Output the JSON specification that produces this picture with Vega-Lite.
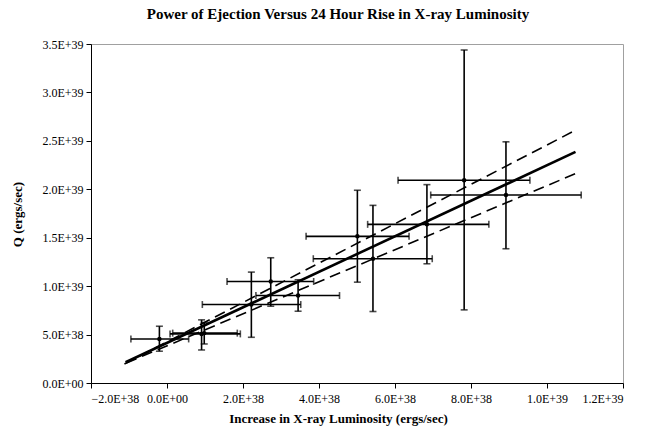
{
  "$schema": "https://vega.github.io/schema/vega-lite/v6.json",
  "width": 532,
  "height": 339,
  "autosize": "none",
  "padding": {"left": 91, "top": 44, "right": 34, "bottom": 51},
  "background": "white",
  "title": {
    "text": "Power  of Ejection Versus 24 Hour Rise in X-ray Luminosity",
    "font": "Liberation Serif",
    "fontSize": 15,
    "fontWeight": "bold",
    "color": "black",
    "anchor": "middle",
    "dx": -19,
    "offset": 16
  },
  "config": {
    "font": "Liberation Serif",
    "view": {"stroke": "#a0a0a0", "strokeWidth": 1},
    "axis": {
      "grid": false,
      "domainColor": "black",
      "domainWidth": 1,
      "tickColor": "black",
      "tickSize": 5,
      "labelFont": "Liberation Serif",
      "labelFontSize": 12,
      "labelColor": "black",
      "titleFont": "Liberation Serif",
      "titleFontSize": 13,
      "titleFontWeight": "bold",
      "titleColor": "black"
    }
  },
  "datasets": {
    "points": [
      {"x": -0.20e38, "y": 4.55e38, "xlo": -0.95e38, "xhi": 0.57e38, "ylo": 3.28e38, "yhi": 5.86e38},
      {"x": 0.91e38, "y": 5.07e38, "xlo": 0.08e38, "xhi": 1.93e38, "ylo": 3.41e38, "yhi": 6.52e38},
      {"x": 0.98e38, "y": 5.15e38, "xlo": 0.15e38, "xhi": 1.85e38, "ylo": 4.03e38, "yhi": 6.24e38},
      {"x": 2.22e38, "y": 8.10e38, "xlo": 0.93e38, "xhi": 3.52e38, "ylo": 4.72e38, "yhi": 11.45e38},
      {"x": 2.73e38, "y": 10.48e38, "xlo": 1.58e38, "xhi": 3.86e38, "ylo": 7.93e38, "yhi": 12.93e38},
      {"x": 3.45e38, "y": 9.03e38, "xlo": 2.34e38, "xhi": 4.54e38, "ylo": 7.41e38, "yhi": 10.66e38},
      {"x": 5.01e38, "y": 15.14e38, "xlo": 3.66e38, "xhi": 6.37e38, "ylo": 10.41e38, "yhi": 19.90e38},
      {"x": 5.42e38, "y": 12.83e38, "xlo": 3.85e38, "xhi": 6.98e38, "ylo": 7.38e38, "yhi": 18.34e38},
      {"x": 6.84e38, "y": 16.38e38, "xlo": 5.28e38, "xhi": 8.47e38, "ylo": 12.31e38, "yhi": 20.48e38},
      {"x": 7.82e38, "y": 20.93e38, "xlo": 6.08e38, "xhi": 9.55e38, "ylo": 7.55e38, "yhi": 34.38e38},
      {"x": 8.92e38, "y": 19.41e38, "xlo": 6.94e38, "xhi": 10.90e38, "ylo": 13.86e38, "yhi": 24.90e38}
    ],
    "fit": [
      {"x": -1.09e38, "y": 2.14e38, "s": "fit"},
      {"x": 10.75e38, "y": 23.86e38, "s": "fit"}
    ],
    "bounds": [
      {"x": -1.12e38, "y": 1.97e38, "s": "upper"},
      {"x": 10.75e38, "y": 26.10e38, "s": "upper"},
      {"x": -1.07e38, "y": 2.07e38, "s": "lower"},
      {"x": 10.75e38, "y": 21.62e38, "s": "lower"}
    ]
  },
  "layer": [
    {
      "data": {"name": "bounds"},
      "mark": {"type": "line", "color": "black", "strokeWidth": 1.6, "strokeDash": [11, 6]},
      "encoding": {
        "x": {"field": "x", "type": "quantitative", "scale": {"domain": [-2e38, 1.2e39], "zero": false, "nice": false},
              "axis": {"title": "Increase in X-ray Luminosity (ergs/sec)", "values": [-2e38, 0, 2e38, 4e38, 6e38, 8e38, 1e39, 1.2e39],
                       "labelExpr": "datum.value == 0 ? '0.0E+00' : upper(format(datum.value, '.1e'))", "labelPadding": 5, "titlePadding": 8, "titleX": 247}},
        "y": {"field": "y", "type": "quantitative", "scale": {"domain": [0, 3.5e39], "zero": false, "nice": false},
              "axis": {"title": "Q (ergs/sec)", "values": [0, 5e38, 1e39, 1.5e39, 2e39, 2.5e39, 3e39, 3.5e39],
                       "labelExpr": "datum.value == 0 ? '0.0E+00' : upper(format(datum.value, '.1e'))", "labelPadding": 3, "titleX": -74, "titleY": 170, "titleAlign": "center", "titleBaseline": "middle"}},
        "detail": {"field": "s", "type": "nominal"}
      }
    },
    {
      "data": {"name": "fit"},
      "mark": {"type": "line", "color": "black", "strokeWidth": 2.6},
      "encoding": {
        "x": {"field": "x", "type": "quantitative", "title": "Increase in X-ray Luminosity (ergs/sec)"},
        "y": {"field": "y", "type": "quantitative", "title": "Q (ergs/sec)"}
      }
    },
    {
      "data": {"name": "points"},
      "mark": {"type": "errorbar", "ticks": {"size": 7, "color": "black", "thickness": 1.6}, "rule": {"color": "black", "strokeWidth": 1.6}},
      "encoding": {
        "x": {"field": "xlo", "type": "quantitative", "title": "Increase in X-ray Luminosity (ergs/sec)"},
        "x2": {"field": "xhi"},
        "y": {"field": "y", "type": "quantitative", "title": "Q (ergs/sec)"}
      }
    },
    {
      "data": {"name": "points"},
      "mark": {"type": "errorbar", "ticks": {"size": 7, "color": "black", "thickness": 1.6}, "rule": {"color": "black", "strokeWidth": 1.6}},
      "encoding": {
        "y": {"field": "ylo", "type": "quantitative", "title": "Q (ergs/sec)"},
        "y2": {"field": "yhi"},
        "x": {"field": "x", "type": "quantitative", "title": "Increase in X-ray Luminosity (ergs/sec)"}
      }
    },
    {
      "data": {"name": "points"},
      "mark": {"type": "point", "filled": true, "shape": "circle", "size": 20, "color": "black", "opacity": 1},
      "encoding": {
        "x": {"field": "x", "type": "quantitative", "title": "Increase in X-ray Luminosity (ergs/sec)"},
        "y": {"field": "y", "type": "quantitative", "title": "Q (ergs/sec)"}
      }
    }
  ]
}
